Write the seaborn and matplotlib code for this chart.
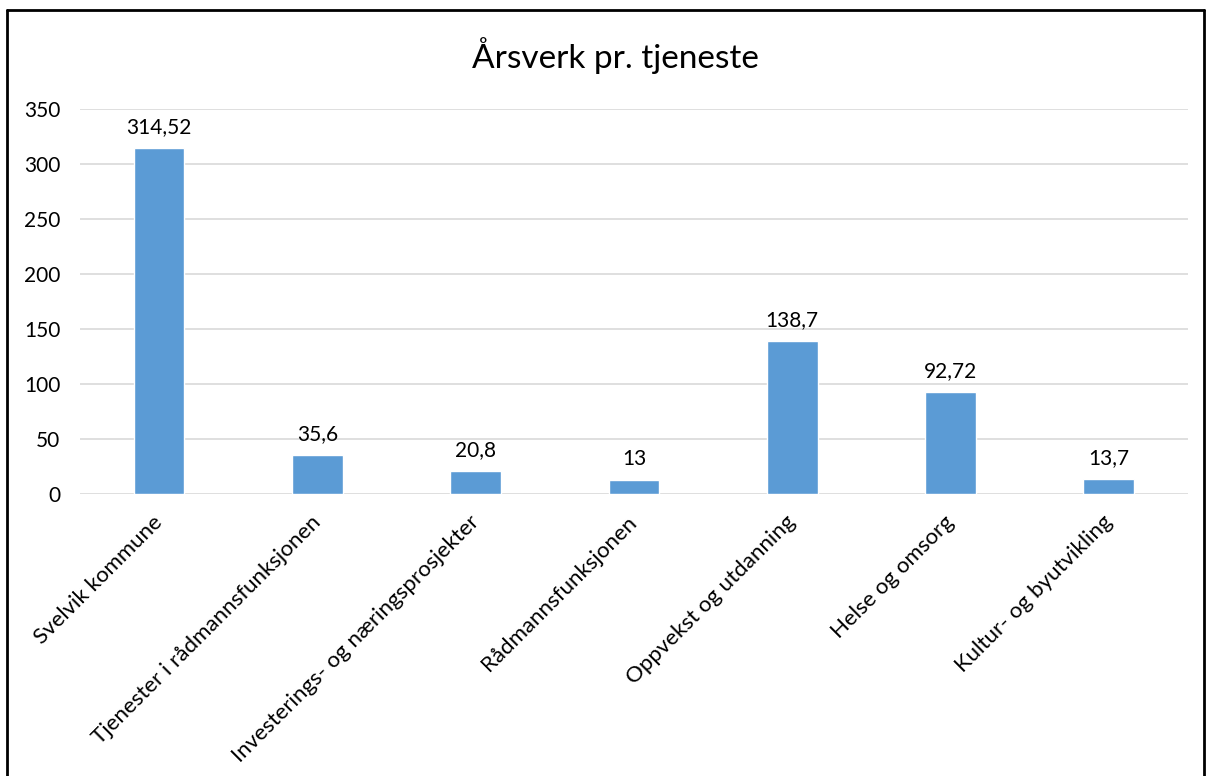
import matplotlib
matplotlib.use("Agg")
import matplotlib.pyplot as plt
import seaborn as sns
import pandas as pd
from matplotlib.lines import Line2D

# data
tjenester = [
    "Svelvik kommune",
    "Tjenester i rådmannsfunksjonen",
    "Investerings- og næringsprosjekter",
    "Rådmannsfunksjonen",
    "Oppvekst og utdanning",
    "Helse og omsorg",
    "Kultur- og byutvikling",
]
aarsverk = [314.52, 35.6, 20.8, 13, 138.7, 92.72, 13.7]
y_ticks = [0, 50, 100, 150, 200, 250, 300, 350]

df = pd.DataFrame({"tjeneste": tjenester, "aarsverk": aarsverk})

sns.set_theme(style="white")
plt.rcParams["font.family"] = ["Lato", "DejaVu Sans"]

fig = plt.figure(figsize=(12.06, 7.76), dpi=100)
ax = fig.add_axes([0.0663, 0.3634, 0.9187, 0.4961])

sns.barplot(data=df, x="tjeneste", y="aarsverk", color="#5B9BD5",
            saturation=1, width=0.32, ax=ax)

# data labels with decimal comma
labels = [f"{v:g}".replace(".", ",") for v in aarsverk]
ax.bar_label(ax.containers[0], labels=labels, padding=8, fontsize=15, color="#000000")

ax.set_ylim(0, 350)
ax.set_yticks(y_ticks)
ax.set_xlim(-0.5, len(tjenester) - 0.5)
ax.yaxis.grid(True, color="#D9D9D9", linewidth=1.2)
ax.set_axisbelow(True)
sns.despine(ax=ax, left=True, bottom=True)
ax.set_xlabel("")
ax.set_ylabel("")
ax.tick_params(axis="y", length=0, pad=14, labelsize=15, labelcolor="#000000")
ax.tick_params(axis="x", length=0, pad=18, labelsize=16, labelcolor="#000000")
plt.setp(ax.get_xticklabels(), rotation=45, ha="right", va="center",
         rotation_mode="anchor")

fig.text(0.51, 0.929, "Årsverk pr. tjeneste", ha="center", va="center",
         fontsize=24, color="#000000")

# chart area border like the Excel export
W, H = 1206, 776
for xs, ys in [([7 / W, 7 / W], [0, 1 - 10 / H]),
               ([7 / W, 1204 / W], [1 - 10 / H, 1 - 10 / H]),
               ([1204 / W, 1204 / W], [0, 1 - 10 / H])]:
    fig.add_artist(Line2D(xs, ys, color="black", linewidth=2, transform=fig.transFigure))

fig.savefig("out.png", dpi=100)
